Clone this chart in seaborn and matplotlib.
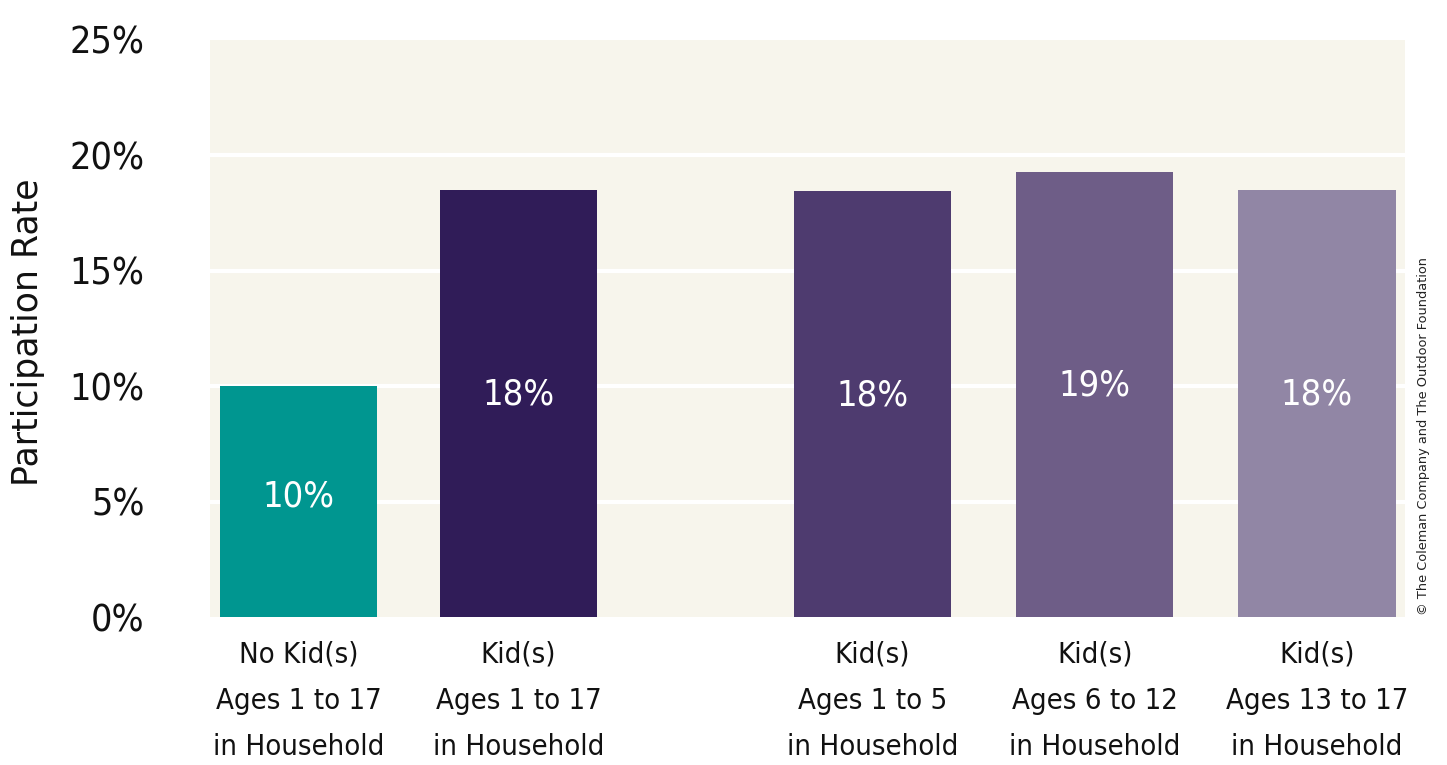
import matplotlib
matplotlib.use("Agg")
import matplotlib.pyplot as plt
import seaborn as sns
import pandas as pd
import numpy as np

categories = ["No Kid(s)\nAges 1 to 17\nin Household",
              "Kid(s)\nAges 1 to 17\nin Household",
              "Kid(s)\nAges 1 to 5\nin Household",
              "Kid(s)\nAges 6 to 12\nin Household",
              "Kid(s)\nAges 13 to 17\nin Household"]
values = [10.0, 18.5, 18.45, 19.3, 18.5]
bar_labels = ["10%", "18%", "18%", "19%", "18%"]
positions = [0.0, 1.0, 2.61, 3.62, 4.63]
colors = ["#009690", "#301c58", "#4e3b6f", "#6e5d87", "#9186a5"]
yticks = [0, 5, 10, 15, 20, 25]
ytick_labels = ["0%", "5%", "10%", "15%", "20%", "25%"]

sns.set_theme(style="white")
plt.rcParams['font.family'] = ['DejaVu Sans']

df = pd.DataFrame({"pos": positions, "val": values, "cat": categories})

fig = plt.figure(figsize=(14.47, 7.65), dpi=100)
ax = fig.add_axes([210/1447, 1 - 617/765, (1405-210)/1447, (617-40)/765])
ax.set_facecolor("#f7f5ec")
sns.barplot(data=df, x="pos", y="val", hue="cat", palette=colors, native_scale=True,
            width=0.714, legend=False, ax=ax, saturation=1, zorder=3)
for p in ax.patches:
    p.set_linewidth(0)
ax.set_xlim(-0.402, 5.03)
ax.set_ylim(0, 25)
ax.set_yticks(yticks)
ax.set_yticklabels(ytick_labels, fontsize=27, fontstretch="condensed",
                   fontweight="light", color="#111111")
ax.tick_params(axis="y", length=0, pad=47)
ax.set_xticks(positions)
ax.set_xticklabels(categories, fontsize=21, fontstretch="condensed",
                   linespacing=1.82, color="#111111")
ax.tick_params(axis="x", length=0, pad=17)
for s in ax.spines.values():
    s.set_visible(False)
ax.grid(False)
for y in yticks[1:-1]:
    ax.axhline(y, color="white", lw=3, zorder=1)
ax.set_xlabel("")
ax.set_ylabel("")
fig.text(28/1447, 1 - 332/765, "Participation Rate", rotation=90, ha="center",
         va="center", fontsize=25, color="#111111")

for x, v, lab in zip(positions, values, bar_labels):
    ax.text(x, v * 0.52, lab, ha="center", va="center", color="white", fontsize=26,
            fontstretch="condensed", fontweight="light", zorder=5)

fig.text(1424/1447, 1 - 436/765, "\u00a9 The Coleman Company and The Outdoor Foundation",
         rotation=90, ha="center", va="center", fontsize=9.3, color="#222222")

fig.savefig("out.png", dpi=100, facecolor="white")
